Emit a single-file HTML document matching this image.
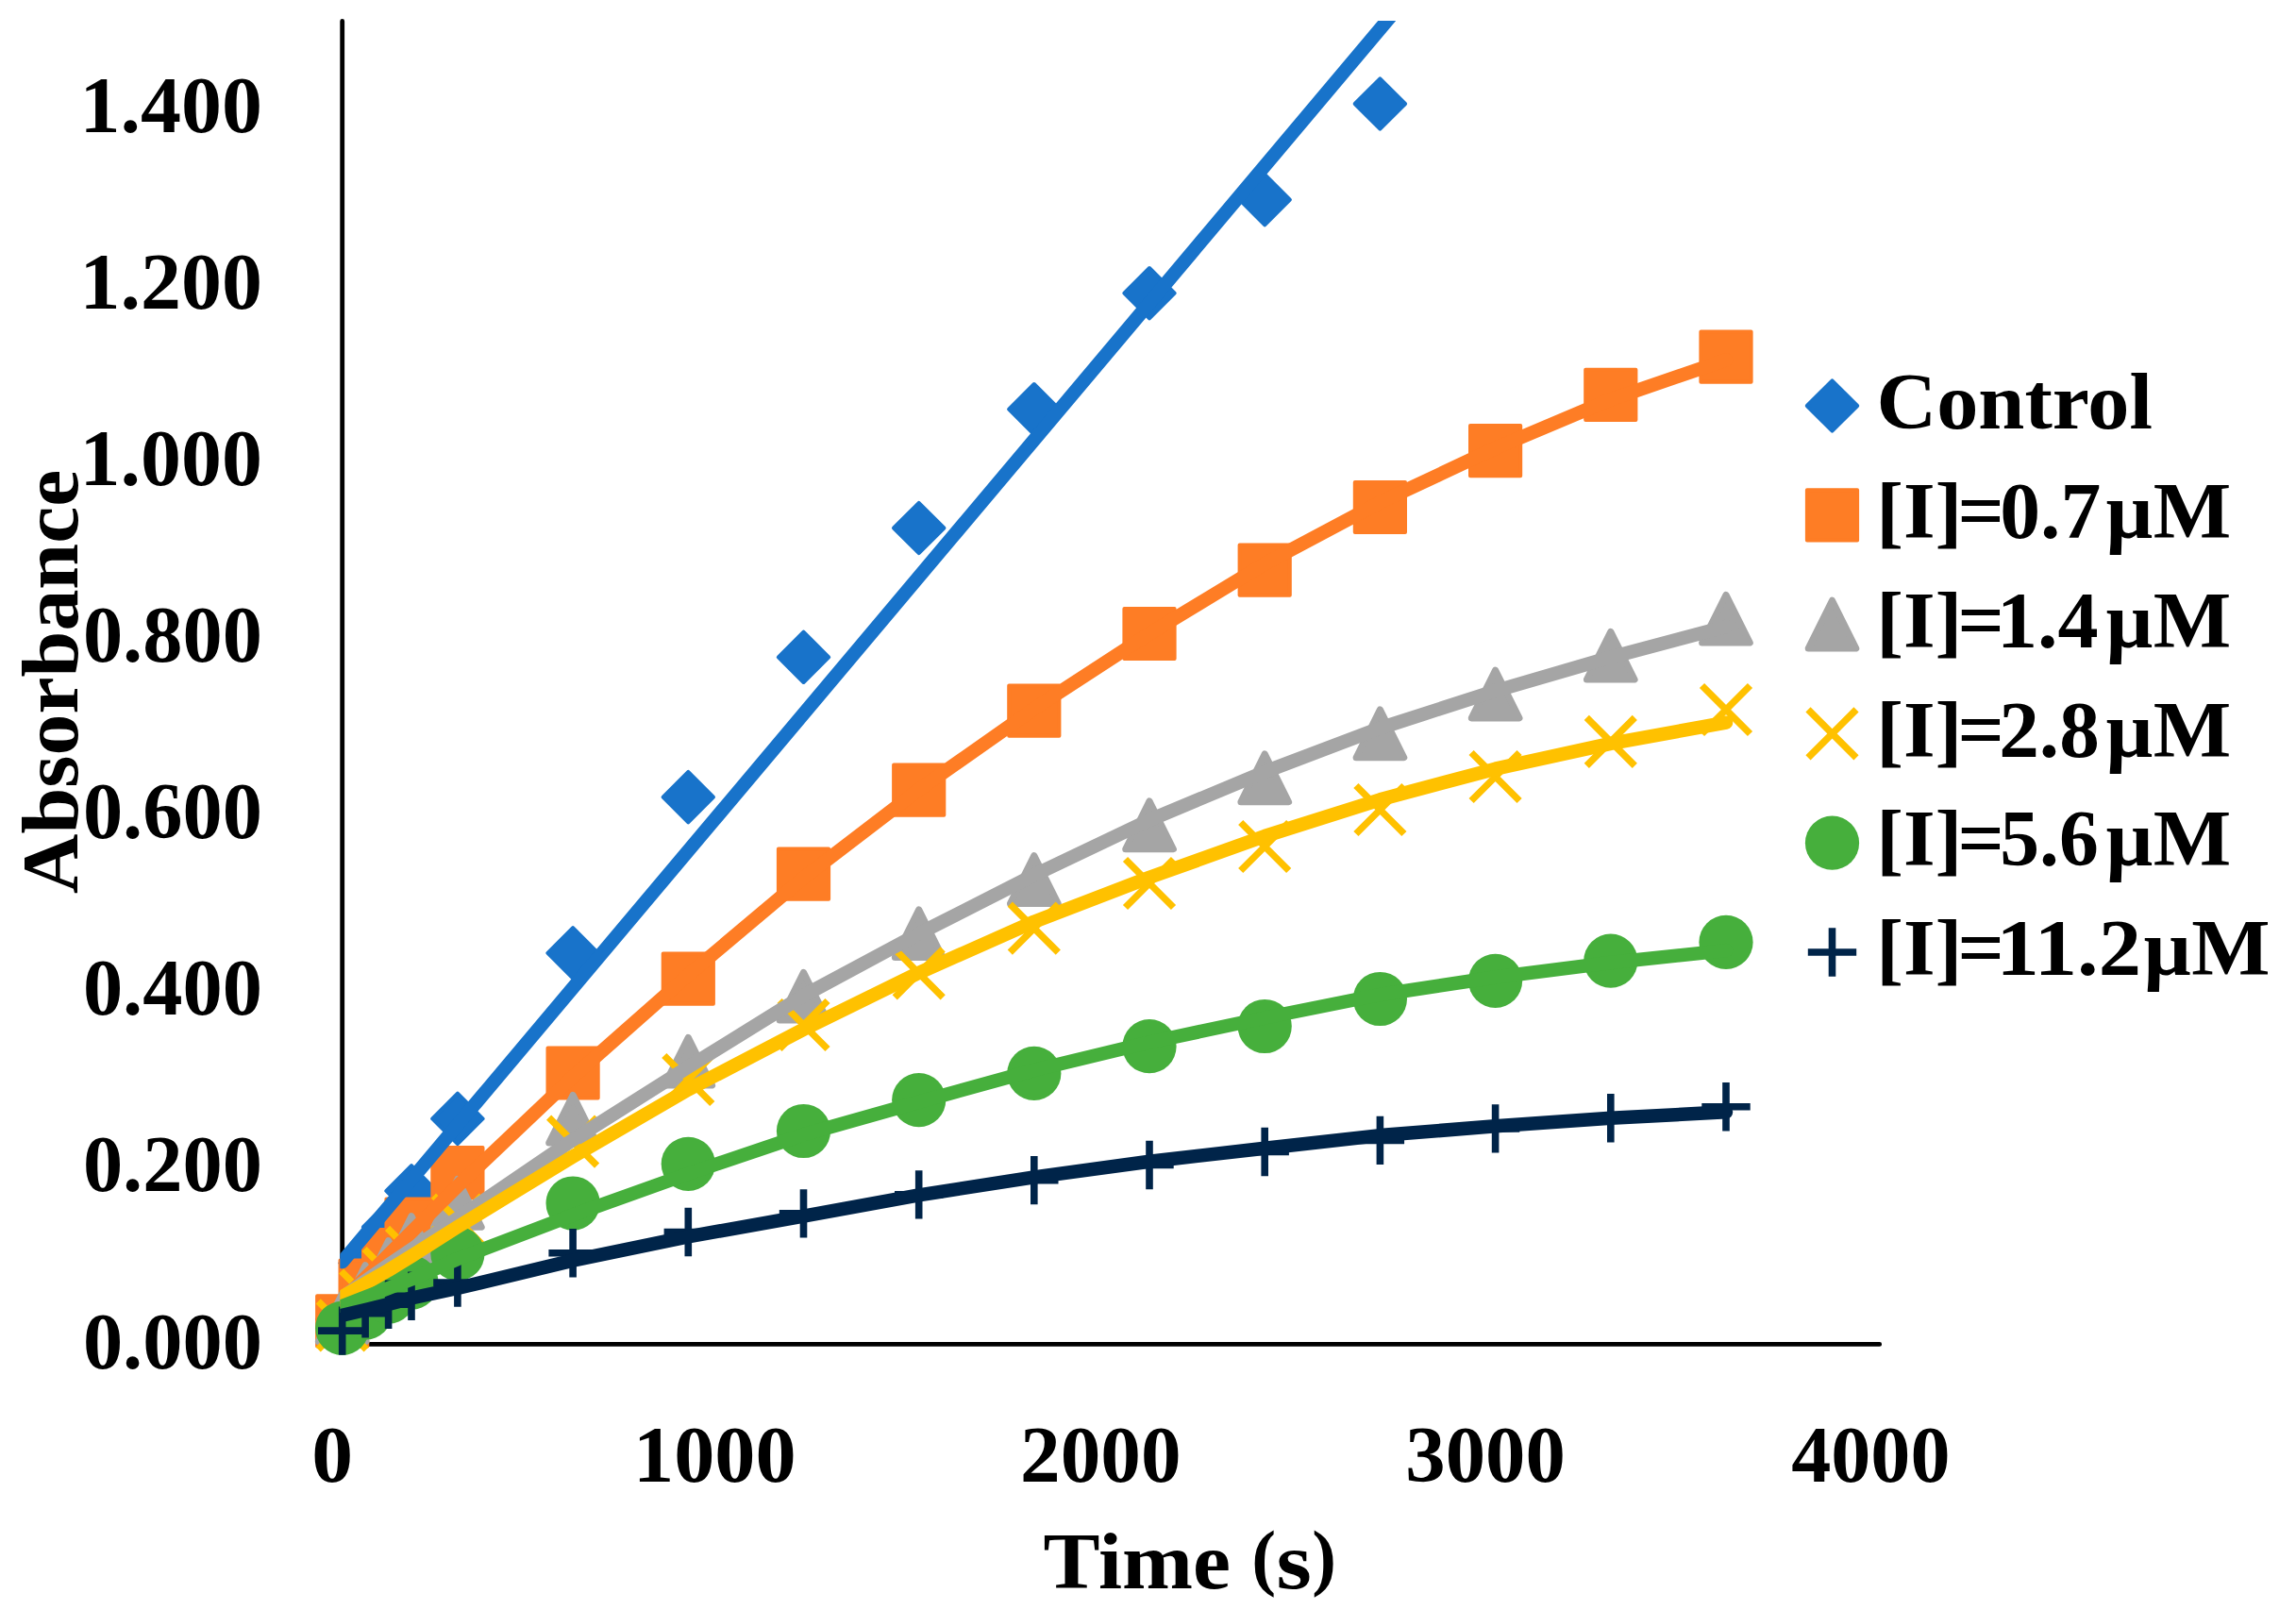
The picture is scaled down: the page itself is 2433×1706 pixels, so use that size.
<!DOCTYPE html>
<html lang="en">
<head>
<meta charset="utf-8">
<title>Absorbance vs Time</title>
<style>
html,body{margin:0;padding:0;background:#fff;}
body{width:2433px;height:1706px;overflow:hidden;}
svg{display:block;}
text{font-family:"Liberation Serif","DejaVu Serif",serif;font-weight:bold;font-size:85px;fill:#000;}
</style>
</head>
<body>
<svg width="2433" height="1706" viewBox="0 0 2433 1706">
<defs><clipPath id="plot"><rect x="360.3" y="22" width="1634" height="1405"/></clipPath></defs>
<rect width="2433" height="1706" fill="#fff"/>
<g id="axes" stroke="#000" stroke-width="4.8" stroke-linecap="round" fill="none">
<path d="M362.7 22.4V1424.4H1991.7"/>
</g>
<g id="ylabels">
<text x="84.64" y="140.2" textLength="193.31" lengthAdjust="spacingAndGlyphs">1.400</text>
<text x="84.64" y="327.2" textLength="193.31" lengthAdjust="spacingAndGlyphs">1.200</text>
<text x="84.64" y="514.3" textLength="193.31" lengthAdjust="spacingAndGlyphs">1.000</text>
<text x="87.90" y="701.3" textLength="190.00" lengthAdjust="spacingAndGlyphs">0.800</text>
<text x="87.90" y="888.4" textLength="190.00" lengthAdjust="spacingAndGlyphs">0.600</text>
<text x="87.90" y="1075.4" textLength="190.00" lengthAdjust="spacingAndGlyphs">0.400</text>
<text x="87.90" y="1262.4" textLength="190.00" lengthAdjust="spacingAndGlyphs">0.200</text>
<text x="87.90" y="1449.5" textLength="190.00" lengthAdjust="spacingAndGlyphs">0.000</text>
</g>
<g id="xlabels">
<text x="330.22" y="1569.5" textLength="43.82" lengthAdjust="spacingAndGlyphs">0</text>
<text x="671.08" y="1569.5" textLength="172.59" lengthAdjust="spacingAndGlyphs">1000</text>
<text x="1081.02" y="1569.5" textLength="170.53" lengthAdjust="spacingAndGlyphs">2000</text>
<text x="1489.36" y="1569.5" textLength="169.48" lengthAdjust="spacingAndGlyphs">3000</text>
<text x="1898.16" y="1569.5" textLength="168.34" lengthAdjust="spacingAndGlyphs">4000</text>
</g>
<g transform="translate(82.2 0) rotate(-90)"><text x="-947.01" y="0" textLength="449.22" lengthAdjust="spacingAndGlyphs">Absorbance</text></g>
<text id="xtitle" y="1682.5"><tspan x="1105.64" textLength="198.41" lengthAdjust="spacingAndGlyphs">Time</tspan> <tspan x="1326.25" textLength="25.87" lengthAdjust="spacingAndGlyphs" dy="-6.8" style="font-size:79px">(</tspan><tspan x="1352.61" textLength="37.35" lengthAdjust="spacingAndGlyphs" dy="6.8">s</tspan><tspan x="1390.37" textLength="25.74" lengthAdjust="spacingAndGlyphs" dy="-6.8" style="font-size:79px">)</tspan></text>
<g id="markers">
<g class="m-blue">
<path d="M362.7 1371.3L389.4 1398L362.7 1424.7L336 1398Z" fill="#1873CA" stroke="#1873CA" stroke-width="4" stroke-linejoin="round"/>
<path d="M387.1 1311.7L413.8 1338.4L387.1 1365.1L360.4 1338.4Z" fill="#1873CA" stroke="#1873CA" stroke-width="4" stroke-linejoin="round"/>
<path d="M411.6 1273.5L438.3 1300.2L411.6 1326.9L384.9 1300.2Z" fill="#1873CA" stroke="#1873CA" stroke-width="4" stroke-linejoin="round"/>
<path d="M436 1235.2L462.7 1261.9L436 1288.6L409.3 1261.9Z" fill="#1873CA" stroke="#1873CA" stroke-width="4" stroke-linejoin="round"/>
<path d="M484.9 1158.7L511.6 1185.4L484.9 1212.1L458.2 1185.4Z" fill="#1873CA" stroke="#1873CA" stroke-width="4" stroke-linejoin="round"/>
<path d="M607.1 983.1L633.8 1009.8L607.1 1036.5L580.4 1009.8Z" fill="#1873CA" stroke="#1873CA" stroke-width="4" stroke-linejoin="round"/>
<path d="M729.3 817.9L756 844.6L729.3 871.3L702.6 844.6Z" fill="#1873CA" stroke="#1873CA" stroke-width="4" stroke-linejoin="round"/>
<path d="M851.5 669.6L878.2 696.3L851.5 723L824.8 696.3Z" fill="#1873CA" stroke="#1873CA" stroke-width="4" stroke-linejoin="round"/>
<path d="M973.7 532.8L1000.4 559.5L973.7 586.2L947 559.5Z" fill="#1873CA" stroke="#1873CA" stroke-width="4" stroke-linejoin="round"/>
<path d="M1095.8 407L1122.5 433.7L1095.8 460.4L1069.1 433.7Z" fill="#1873CA" stroke="#1873CA" stroke-width="4" stroke-linejoin="round"/>
<path d="M1218 284L1244.7 310.7L1218 337.4L1191.3 310.7Z" fill="#1873CA" stroke="#1873CA" stroke-width="4" stroke-linejoin="round"/>
<path d="M1340.2 185L1366.9 211.7L1340.2 238.4L1313.5 211.7Z" fill="#1873CA" stroke="#1873CA" stroke-width="4" stroke-linejoin="round"/>
<path d="M1462.4 83.3L1489.1 110L1462.4 136.7L1435.7 110Z" fill="#1873CA" stroke="#1873CA" stroke-width="4" stroke-linejoin="round"/>
</g>
<g class="m-orange">
<rect x="336.1" y="1373.2" width="53.2" height="53.2" fill="#FE7D25" stroke="#FE7D25" stroke-width="4" stroke-linejoin="round"/>
<rect x="360.5" y="1335.6" width="53.2" height="53.2" fill="#FE7D25" stroke="#FE7D25" stroke-width="4" stroke-linejoin="round"/>
<rect x="385" y="1302.9" width="53.2" height="53.2" fill="#FE7D25" stroke="#FE7D25" stroke-width="4" stroke-linejoin="round"/>
<rect x="409.4" y="1270.5" width="53.2" height="53.2" fill="#FE7D25" stroke="#FE7D25" stroke-width="4" stroke-linejoin="round"/>
<rect x="458.3" y="1216" width="53.2" height="53.2" fill="#FE7D25" stroke="#FE7D25" stroke-width="4" stroke-linejoin="round"/>
<rect x="580.5" y="1110.4" width="53.2" height="53.2" fill="#FE7D25" stroke="#FE7D25" stroke-width="4" stroke-linejoin="round"/>
<rect x="702.7" y="1010.6" width="53.2" height="53.2" fill="#FE7D25" stroke="#FE7D25" stroke-width="4" stroke-linejoin="round"/>
<rect x="824.9" y="899.6" width="53.2" height="53.2" fill="#FE7D25" stroke="#FE7D25" stroke-width="4" stroke-linejoin="round"/>
<rect x="947.1" y="810.5" width="53.2" height="53.2" fill="#FE7D25" stroke="#FE7D25" stroke-width="4" stroke-linejoin="round"/>
<rect x="1069.2" y="726.5" width="53.2" height="53.2" fill="#FE7D25" stroke="#FE7D25" stroke-width="4" stroke-linejoin="round"/>
<rect x="1191.4" y="644.9" width="53.2" height="53.2" fill="#FE7D25" stroke="#FE7D25" stroke-width="4" stroke-linejoin="round"/>
<rect x="1313.6" y="577.5" width="53.2" height="53.2" fill="#FE7D25" stroke="#FE7D25" stroke-width="4" stroke-linejoin="round"/>
<rect x="1435.8" y="510.9" width="53.2" height="53.2" fill="#FE7D25" stroke="#FE7D25" stroke-width="4" stroke-linejoin="round"/>
<rect x="1558" y="451" width="53.2" height="53.2" fill="#FE7D25" stroke="#FE7D25" stroke-width="4" stroke-linejoin="round"/>
<rect x="1680.2" y="391.7" width="53.2" height="53.2" fill="#FE7D25" stroke="#FE7D25" stroke-width="4" stroke-linejoin="round"/>
<rect x="1802.4" y="351.6" width="53.2" height="53.2" fill="#FE7D25" stroke="#FE7D25" stroke-width="4" stroke-linejoin="round"/>
</g>
<g class="m-gray">
<path d="M362.7 1370.6L388.1 1421.4L337.3 1421.4Z" fill="#A5A5A5" stroke="#A5A5A5" stroke-width="7" stroke-linejoin="round"/>
<path d="M387.1 1340.6L412.5 1391.4L361.8 1391.4Z" fill="#A5A5A5" stroke="#A5A5A5" stroke-width="7" stroke-linejoin="round"/>
<path d="M411.6 1314.6L436.9 1365.4L386.2 1365.4Z" fill="#A5A5A5" stroke="#A5A5A5" stroke-width="7" stroke-linejoin="round"/>
<path d="M436 1288.6L461.4 1339.4L410.7 1339.4Z" fill="#A5A5A5" stroke="#A5A5A5" stroke-width="7" stroke-linejoin="round"/>
<path d="M484.9 1249.5L510.2 1300.3L459.5 1300.3Z" fill="#A5A5A5" stroke="#A5A5A5" stroke-width="7" stroke-linejoin="round"/>
<path d="M607.1 1160.3L632.4 1211.1L581.7 1211.1Z" fill="#A5A5A5" stroke="#A5A5A5" stroke-width="7" stroke-linejoin="round"/>
<path d="M729.3 1099.3L754.6 1150.1L703.9 1150.1Z" fill="#A5A5A5" stroke="#A5A5A5" stroke-width="7" stroke-linejoin="round"/>
<path d="M851.5 1030.3L876.8 1081.1L826.1 1081.1Z" fill="#A5A5A5" stroke="#A5A5A5" stroke-width="7" stroke-linejoin="round"/>
<path d="M973.7 963.8L999 1014.6L948.3 1014.6Z" fill="#A5A5A5" stroke="#A5A5A5" stroke-width="7" stroke-linejoin="round"/>
<path d="M1095.8 906.6L1121.2 957.4L1070.5 957.4Z" fill="#A5A5A5" stroke="#A5A5A5" stroke-width="7" stroke-linejoin="round"/>
<path d="M1218 848.9L1243.4 899.7L1192.7 899.7Z" fill="#A5A5A5" stroke="#A5A5A5" stroke-width="7" stroke-linejoin="round"/>
<path d="M1340.2 798.9L1365.6 849.7L1314.9 849.7Z" fill="#A5A5A5" stroke="#A5A5A5" stroke-width="7" stroke-linejoin="round"/>
<path d="M1462.4 751.9L1487.8 802.7L1437.1 802.7Z" fill="#A5A5A5" stroke="#A5A5A5" stroke-width="7" stroke-linejoin="round"/>
<path d="M1584.6 710.1L1610 760.9L1559.3 760.9Z" fill="#A5A5A5" stroke="#A5A5A5" stroke-width="7" stroke-linejoin="round"/>
<path d="M1706.8 669.3L1732.1 720.1L1681.4 720.1Z" fill="#A5A5A5" stroke="#A5A5A5" stroke-width="7" stroke-linejoin="round"/>
<path d="M1829 630.3L1854.3 681.1L1803.6 681.1Z" fill="#A5A5A5" stroke="#A5A5A5" stroke-width="7" stroke-linejoin="round"/>
</g>
<g class="m-yellow">
<path d="M337.2 1378.8L388.2 1429.8M388.2 1378.8L337.2 1429.8" fill="none" stroke="#FFC100" stroke-width="7.3"/>
<path d="M361.6 1347L412.6 1398M412.6 1347L361.6 1398" fill="none" stroke="#FFC100" stroke-width="7.3"/>
<path d="M386.1 1323.5L437.1 1374.5M437.1 1323.5L386.1 1374.5" fill="none" stroke="#FFC100" stroke-width="7.3"/>
<path d="M410.5 1301.3L461.5 1352.3M461.5 1301.3L410.5 1352.3" fill="none" stroke="#FFC100" stroke-width="7.3"/>
<path d="M459.4 1267.1L510.4 1318.1M510.4 1267.1L459.4 1318.1" fill="none" stroke="#FFC100" stroke-width="7.3"/>
<path d="M581.6 1184.2L632.6 1235.2M632.6 1184.2L581.6 1235.2" fill="none" stroke="#FFC100" stroke-width="7.3"/>
<path d="M703.8 1118.5L754.8 1169.5M754.8 1118.5L703.8 1169.5" fill="none" stroke="#FFC100" stroke-width="7.3"/>
<path d="M826 1060.5L877 1111.5M877 1060.5L826 1111.5" fill="none" stroke="#FFC100" stroke-width="7.3"/>
<path d="M948.2 1005.8L999.2 1056.8M999.2 1005.8L948.2 1056.8" fill="none" stroke="#FFC100" stroke-width="7.3"/>
<path d="M1070.3 958.2L1121.3 1009.2M1121.3 958.2L1070.3 1009.2" fill="none" stroke="#FFC100" stroke-width="7.3"/>
<path d="M1192.5 910.5L1243.5 961.5M1243.5 910.5L1192.5 961.5" fill="none" stroke="#FFC100" stroke-width="7.3"/>
<path d="M1314.7 871.5L1365.7 922.5M1365.7 871.5L1314.7 922.5" fill="none" stroke="#FFC100" stroke-width="7.3"/>
<path d="M1436.9 832.5L1487.9 883.5M1487.9 832.5L1436.9 883.5" fill="none" stroke="#FFC100" stroke-width="7.3"/>
<path d="M1559.1 797.5L1610.1 848.5M1610.1 797.5L1559.1 848.5" fill="none" stroke="#FFC100" stroke-width="7.3"/>
<path d="M1681.3 760.4L1732.3 811.4M1732.3 760.4L1681.3 811.4" fill="none" stroke="#FFC100" stroke-width="7.3"/>
<path d="M1803.5 726.5L1854.5 777.5M1854.5 726.5L1803.5 777.5" fill="none" stroke="#FFC100" stroke-width="7.3"/>
</g>
<g class="m-green">
<circle cx="362.7" cy="1407.3" r="28.6" fill="#46AF3C"/>
<circle cx="387.1" cy="1391" r="28.6" fill="#46AF3C"/>
<circle cx="411.6" cy="1374" r="28.6" fill="#46AF3C"/>
<circle cx="436" cy="1359" r="28.6" fill="#46AF3C"/>
<circle cx="484.9" cy="1328.5" r="28.6" fill="#46AF3C"/>
<circle cx="607.1" cy="1275" r="28.6" fill="#46AF3C"/>
<circle cx="729.3" cy="1233.3" r="28.6" fill="#46AF3C"/>
<circle cx="851.5" cy="1198.5" r="28.6" fill="#46AF3C"/>
<circle cx="973.7" cy="1165.6" r="28.6" fill="#46AF3C"/>
<circle cx="1095.8" cy="1137.4" r="28.6" fill="#46AF3C"/>
<circle cx="1218" cy="1108.7" r="28.6" fill="#46AF3C"/>
<circle cx="1340.2" cy="1087.5" r="28.6" fill="#46AF3C"/>
<circle cx="1462.4" cy="1058.5" r="28.6" fill="#46AF3C"/>
<circle cx="1584.6" cy="1039.3" r="28.6" fill="#46AF3C"/>
<circle cx="1706.8" cy="1018.2" r="28.6" fill="#46AF3C"/>
<circle cx="1829" cy="998.4" r="28.6" fill="#46AF3C"/>
</g>
<g class="m-navy">
<path d="M337 1410.1H388.4M362.7 1384.4V1435.8" fill="none" stroke="#002449" stroke-width="7.6"/>
<path d="M361.4 1391.8H412.8M387.1 1366.1V1417.5" fill="none" stroke="#002449" stroke-width="7.6"/>
<path d="M385.9 1382.3H437.3M411.6 1356.6V1408" fill="none" stroke="#002449" stroke-width="7.6"/>
<path d="M410.3 1373.3H461.7M436 1347.6V1399" fill="none" stroke="#002449" stroke-width="7.6"/>
<path d="M459.2 1359.1H510.6M484.9 1333.4V1384.8" fill="none" stroke="#002449" stroke-width="7.6"/>
<path d="M581.4 1327.8H632.8M607.1 1302.1V1353.5" fill="none" stroke="#002449" stroke-width="7.6"/>
<path d="M703.6 1305.5H755M729.3 1279.8V1331.2" fill="none" stroke="#002449" stroke-width="7.6"/>
<path d="M825.8 1285.9H877.2M851.5 1260.2V1311.6" fill="none" stroke="#002449" stroke-width="7.6"/>
<path d="M948 1265.9H999.4M973.7 1240.2V1291.6" fill="none" stroke="#002449" stroke-width="7.6"/>
<path d="M1070.1 1250.6H1121.5M1095.8 1224.9V1276.3" fill="none" stroke="#002449" stroke-width="7.6"/>
<path d="M1192.3 1234.5H1243.7M1218 1208.8V1260.2" fill="none" stroke="#002449" stroke-width="7.6"/>
<path d="M1314.5 1220.5H1365.9M1340.2 1194.8V1246.2" fill="none" stroke="#002449" stroke-width="7.6"/>
<path d="M1436.7 1208.4H1488.1M1462.4 1182.7V1234.1" fill="none" stroke="#002449" stroke-width="7.6"/>
<path d="M1558.9 1195.9H1610.3M1584.6 1170.2V1221.6" fill="none" stroke="#002449" stroke-width="7.6"/>
<path d="M1681.1 1184.8H1732.5M1706.8 1159.1V1210.5" fill="none" stroke="#002449" stroke-width="7.6"/>
<path d="M1803.3 1172.7H1854.7M1829 1147V1198.4" fill="none" stroke="#002449" stroke-width="7.6"/>
</g>
</g>
<g id="fits" fill="none" stroke-linejoin="round" stroke-linecap="round" clip-path="url(#plot)">
<path d="M362.7 1337L1480 9.8" stroke="#1873CA" stroke-width="14.5"/>
<path d="M362.7 1378.4 L387.1 1354.1 L411.6 1329.8 L436 1305.5 L484.9 1256.8 L607.1 1141 L729.3 1033.1 L851.5 930.2 L973.7 836.8 L1095.8 751 L1218 671.5 L1340.2 597.4 L1462.4 532.3 L1584.6 474.9 L1706.8 423.3 L1829 381.3" stroke="#FE7D25" stroke-width="14.5"/>
<path d="M362.7 1375 L387.1 1357.5 L411.6 1340.5 L436 1324 L484.9 1291 L607.1 1207.8 L729.3 1130.7 L851.5 1055 L973.7 989.3 L1095.8 927.2 L1218 869 L1340.2 817.9 L1462.4 771.5 L1584.6 732.1 L1706.8 696.5 L1829 664" stroke="#A5A5A5" stroke-width="14.5"/>
<path d="M362.7 1374 L387.1 1360 L411.6 1346 L436 1331 L484.9 1300 L607.1 1225.5 L729.3 1154.5 L851.5 1090.8 L973.7 1030.8 L1095.8 976.7 L1218 929.8 L1340.2 886 L1462.4 847.3 L1584.6 814.7 L1706.8 787.8 L1829 765.7" stroke="#FFC100" stroke-width="14.5"/>
<path d="M362.7 1384 L387.1 1374.5 L411.6 1365 L436 1355.5 L484.9 1334 L607.1 1287.5 L729.3 1243.7 L851.5 1202.3 L973.7 1167.7 L1095.8 1134 L1218 1104.5 L1340.2 1078.5 L1462.4 1054 L1584.6 1035.5 L1706.8 1020 L1829 1007.1" stroke="#46AF3C" stroke-width="14.5"/>
<path d="M362.7 1393.8 L387.1 1388 L411.6 1382 L436 1375.5 L484.9 1365 L607.1 1335.6 L729.3 1310.4 L851.5 1288.6 L973.7 1266.4 L1095.8 1247.3 L1218 1230.8 L1340.2 1216.7 L1462.4 1203.1 L1584.6 1193.2 L1706.8 1184.8 L1829 1178.3" stroke="#002449" stroke-width="14.5"/>
</g>
<g id="legend">
<path d="M1941.5 403.3L1968.2 430L1941.5 456.7L1914.8 430Z" fill="#1873CA" stroke="#1873CA" stroke-width="4" stroke-linejoin="round"/>
<text y="454.2"><tspan x="1988.45" textLength="292.60" lengthAdjust="spacingAndGlyphs">Control</tspan></text>
<rect x="1914.9" y="519.2" width="53.2" height="53.2" fill="#FE7D25" stroke="#FE7D25" stroke-width="4" stroke-linejoin="round"/>
<text y="570"><tspan x="1988.20" textLength="91.22" lengthAdjust="spacingAndGlyphs">[I]</tspan><tspan x="2074.53" textLength="49.29" lengthAdjust="spacingAndGlyphs">=</tspan><tspan x="2119.18" textLength="107.09" lengthAdjust="spacingAndGlyphs">0.7</tspan><tspan x="2231.37" textLength="132.89" lengthAdjust="spacingAndGlyphs">µM</tspan></text>
<path d="M1941.5 636.2L1966.8 687L1916.2 687Z" fill="#A5A5A5" stroke="#A5A5A5" stroke-width="7" stroke-linejoin="round"/>
<text y="685.8"><tspan x="1988.20" textLength="91.22" lengthAdjust="spacingAndGlyphs">[I]</tspan><tspan x="2074.53" textLength="49.29" lengthAdjust="spacingAndGlyphs">=</tspan><tspan x="2115.91" textLength="107.66" lengthAdjust="spacingAndGlyphs">1.4</tspan><tspan x="2231.37" textLength="132.89" lengthAdjust="spacingAndGlyphs">µM</tspan></text>
<path d="M1916 751.9L1967 802.9M1967 751.9L1916 802.9" fill="none" stroke="#FFC100" stroke-width="7.3"/>
<text y="801.6"><tspan x="1988.20" textLength="91.22" lengthAdjust="spacingAndGlyphs">[I]</tspan><tspan x="2074.53" textLength="49.29" lengthAdjust="spacingAndGlyphs">=</tspan><tspan x="2118.19" textLength="106.57" lengthAdjust="spacingAndGlyphs">2.8</tspan><tspan x="2231.37" textLength="132.89" lengthAdjust="spacingAndGlyphs">µM</tspan></text>
<circle cx="1941.5" cy="893.2" r="28.6" fill="#46AF3C"/>
<text y="917.4"><tspan x="1988.20" textLength="91.22" lengthAdjust="spacingAndGlyphs">[I]</tspan><tspan x="2074.53" textLength="49.29" lengthAdjust="spacingAndGlyphs">=</tspan><tspan x="2119.25" textLength="104.46" lengthAdjust="spacingAndGlyphs">5.6</tspan><tspan x="2231.37" textLength="132.89" lengthAdjust="spacingAndGlyphs">µM</tspan></text>
<path d="M1915.8 1009H1967.2M1941.5 983.3V1034.7" fill="none" stroke="#002449" stroke-width="7.6"/>
<text y="1033.2"><tspan x="1988.20" textLength="91.22" lengthAdjust="spacingAndGlyphs">[I]</tspan><tspan x="2074.53" textLength="49.29" lengthAdjust="spacingAndGlyphs">=</tspan><tspan x="2115.54" textLength="153.49" lengthAdjust="spacingAndGlyphs">11.2</tspan><tspan x="2271.36" textLength="134.13" lengthAdjust="spacingAndGlyphs">µM</tspan></text>
</g>
</svg>
</body>
</html>
